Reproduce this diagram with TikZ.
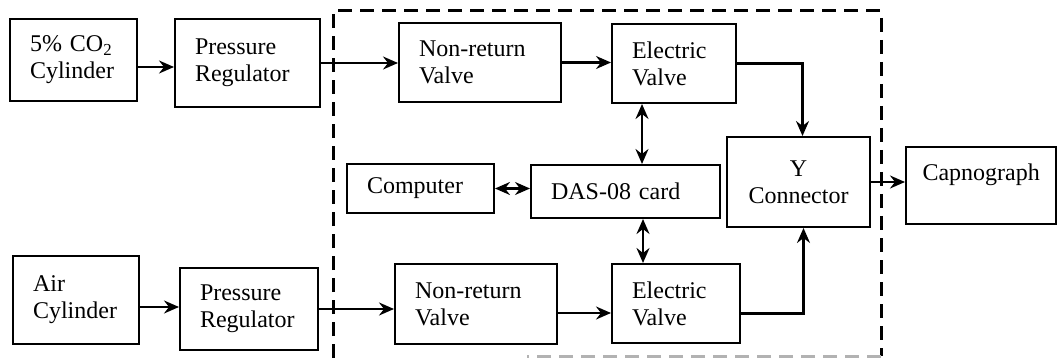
\documentclass[tikz,border=0pt]{standalone}
\usepackage{fontspec}
\setmainfont{Liberation Serif}
\usetikzlibrary{arrows.meta}

\begin{document}
\begin{tikzpicture}[x=1pt,y=-1pt,
  box/.style={draw, line width=2pt, inner xsep=20pt, inner ysep=0pt, align=left,
    font=\fontsize{24}{27}\selectfont},
  arr/.style={line width=2.2pt, -{Stealth[length=15pt,width=13pt,inset=5pt]}},
  darr/.style={line width=2.2pt, {Stealth[length=15pt,width=13pt,inset=5pt]}-{Stealth[length=15pt,width=13pt,inset=5pt]}},
  dashbox/.style={line width=3pt, dash pattern=on 14pt off 8pt}]

\useasboundingbox (0,0) rectangle (1057,358);

% gas sources
\node[box, text width=87pt, minimum height=82pt] (co2) at (73.5,60) {5\% CO\textsubscript{2}\\Cylinder};
\node[box, text width=105pt, minimum height=88pt] (prA) at (247.5,63) {Pressure\\Regulator};
\node[box, text width=86pt, minimum height=88pt] (air) at (76,300) {Air\\Cylinder};
\node[box, text width=98pt, minimum height=82pt] (prB) at (249,309) {Pressure\\Regulator};

% valves
\node[box, text width=122pt, minimum height=79pt] (nrvA) at (480,62.5) {Non-return\\Valve};
\node[box, text width=84pt, minimum height=79pt] (evA) at (674,63.5) {Electric\\Valve};
\node[box, text width=122pt, minimum height=80pt] (nrvB) at (476,304) {Non-return\\Valve};
\node[box, text width=88pt, minimum height=79pt] (evB) at (676,303.5) {Electric\\Valve};

% control
\node[box, text width=107pt, minimum height=49pt] (comp) at (420.5,188.5) {Computer};
\node[box, text width=149pt, minimum height=53pt] (das) at (625.5,191.5) {DAS-08 card};

% outlet
\node[box, align=center, inner xsep=0pt, minimum width=143pt, minimum height=90pt] (ycon) at (798.5,182) {Y\\Connector};
\node[box, inner xsep=16.5pt, text width=117pt, minimum height=77pt] (capno) at (981,185.5) {Capnograph\\\mbox{}};

% dashed enclosure
\draw[dashbox] (333,358) -- (333,11) -- (881,11) -- (881,356);
\draw[dashbox, gray!60] (881,356) -- (527,356);

% gas lines
\draw[arr] ([yshift=-7pt]co2.east) -- ([yshift=-7pt]co2.east -| prA.west);
\draw[arr] (prA.east) -- (prA.east -| nrvA.west);
\draw[arr] (nrvA.east) -- (nrvA.east -| evA.west);
\draw[arr] (evA.east) -| ([xshift=4pt]ycon.north);
\draw[arr] ([yshift=-7pt]air.east) -- ([yshift=-7pt]air.east -| prB.west);
\draw[arr] (prB.east) -- (prB.east -| nrvB.west);
\draw[arr] ([yshift=-9pt]nrvB.east) -- ([yshift=-9pt]nrvB.east -| evB.west);
\draw[arr] ([yshift=-10pt]evB.east) -| ([xshift=5pt]ycon.south);
\draw[arr] (ycon.east) -- (ycon.east -| capno.west);

% signal lines
\draw[darr] ([xshift=-32pt]evA.south) -- ([xshift=-32pt]evA.south |- das.north);
\draw[darr] (comp.east) -- (comp.east -| das.west);
\draw[darr] ([xshift=-33pt]evB.north |- das.south) -- ([xshift=-33pt]evB.north);
\end{tikzpicture}
\end{document}
